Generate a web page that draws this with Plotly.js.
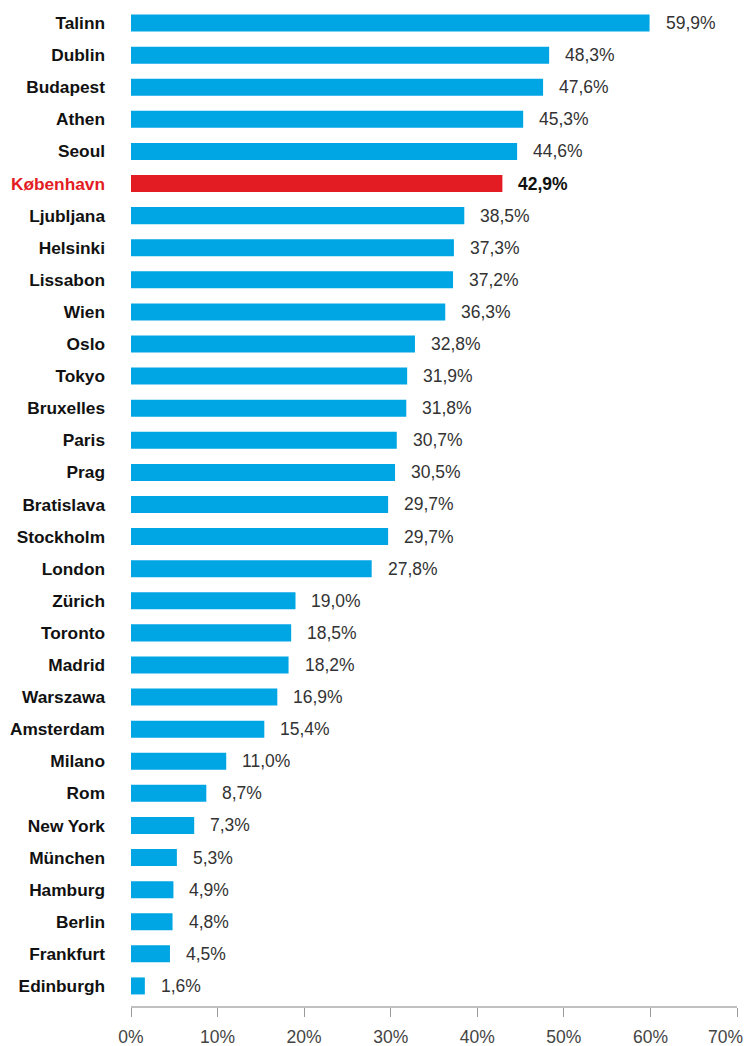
<!DOCTYPE html>
<html>
<head>
<meta charset="utf-8">
<script src="https://cdn.plot.ly/plotly-3.0.1.min.js"></script>
<style>html,body{margin:0;padding:0;background:#fff;}#chart{width:747px;height:1046px;}</style>
</head>
<body>
<div id="chart"></div>
<script>
const cities = ["Talinn","Dublin","Budapest","Athen","Seoul","København","Ljubljana","Helsinki","Lissabon","Wien","Oslo","Tokyo","Bruxelles","Paris","Prag","Bratislava","Stockholm","London","Zürich","Toronto","Madrid","Warszawa","Amsterdam","Milano","Rom","New York","München","Hamburg","Berlin","Frankfurt","Edinburgh"];
const values = [59.9,48.3,47.6,45.3,44.6,42.9,38.5,37.3,37.2,36.3,32.8,31.9,31.8,30.7,30.5,29.7,29.7,27.8,19.0,18.5,18.2,16.9,15.4,11.0,8.7,7.3,5.3,4.9,4.8,4.5,1.6];
const highlight = "København";
const xTicks = [0,10,20,30,40,50,60,70];
const xTickText = ["0%","10%","20%","30%","40%","50%","60%","70%"];

const BLUE = "#00a5e3", RED = "#e31c24";
const fmt = v => v.toFixed(1).replace(".", ",") + "%";
const tickFont = {family: "Liberation Sans, Arial, sans-serif", size: 17.5, color: "#444"};

const colors = cities.map(c => c === highlight ? RED : BLUE);
const catText = cities.map(c => c === highlight ? '<span style="color:' + RED + '">' + c + '</span>' : c);

const trace = {
  type: "bar", orientation: "h",
  x: values, y: cities,
  marker: {color: colors, line: {width: 0}},
  hoverinfo: "none"
};

const annotations = cities.map((c, i) => ({
  x: values[i], y: c, xref: "x", yref: "y",
  text: c === highlight ? "<b>" + fmt(values[i]) + "</b>" : fmt(values[i]),
  showarrow: false, xanchor: "left", xshift: 14,
  font: {family: "Liberation Sans, Arial, sans-serif", size: 17.5, color: c === highlight ? "#111" : "#333"}
}));
// last tick label sits flush with the right edge, as in the reference
const lastIdx = xTicks.length - 1;
annotations.push({
  x: xTicks[lastIdx], y: 0, xref: "x", yref: "paper",
  text: xTickText[lastIdx], showarrow: false,
  xanchor: "right", yanchor: "middle", xshift: 8, yshift: -31,
  font: tickFont
});

const layout = {
  width: 747, height: 1046,
  margin: {l: 131, r: 10, t: 7, b: 40},
  paper_bgcolor: "#fff", plot_bgcolor: "#fff",
  showlegend: false,
  bargap: 0.47,
  xaxis: {
    range: [0, 70], tickvals: xTicks,
    ticktext: xTickText.map((t, i) => i === lastIdx ? "" : t),
    showgrid: false, zeroline: false,
    showline: true, linecolor: "#c0c0c0", linewidth: 2,
    ticks: "outside", ticklen: 9, tickwidth: 1, tickcolor: "#999",
    ticklabelstandoff: 5,
    tickfont: tickFont,
    fixedrange: true
  },
  yaxis: {
    type: "category", categoryorder: "array", categoryarray: cities,
    range: [30.625, -0.5],
    tickvals: cities, ticktext: catText,
    showgrid: false, zeroline: false, showline: false, ticks: "",
    ticklabelstandoff: 25,
    tickfont: {family: "Liberation Sans, Arial, sans-serif", size: 17.3, color: "#111", weight: "bold"},
    fixedrange: true
  },
  annotations: annotations
};

Plotly.newPlot("chart", [trace], layout, {displayModeBar: false, staticPlot: true});
</script>
</body>
</html>
